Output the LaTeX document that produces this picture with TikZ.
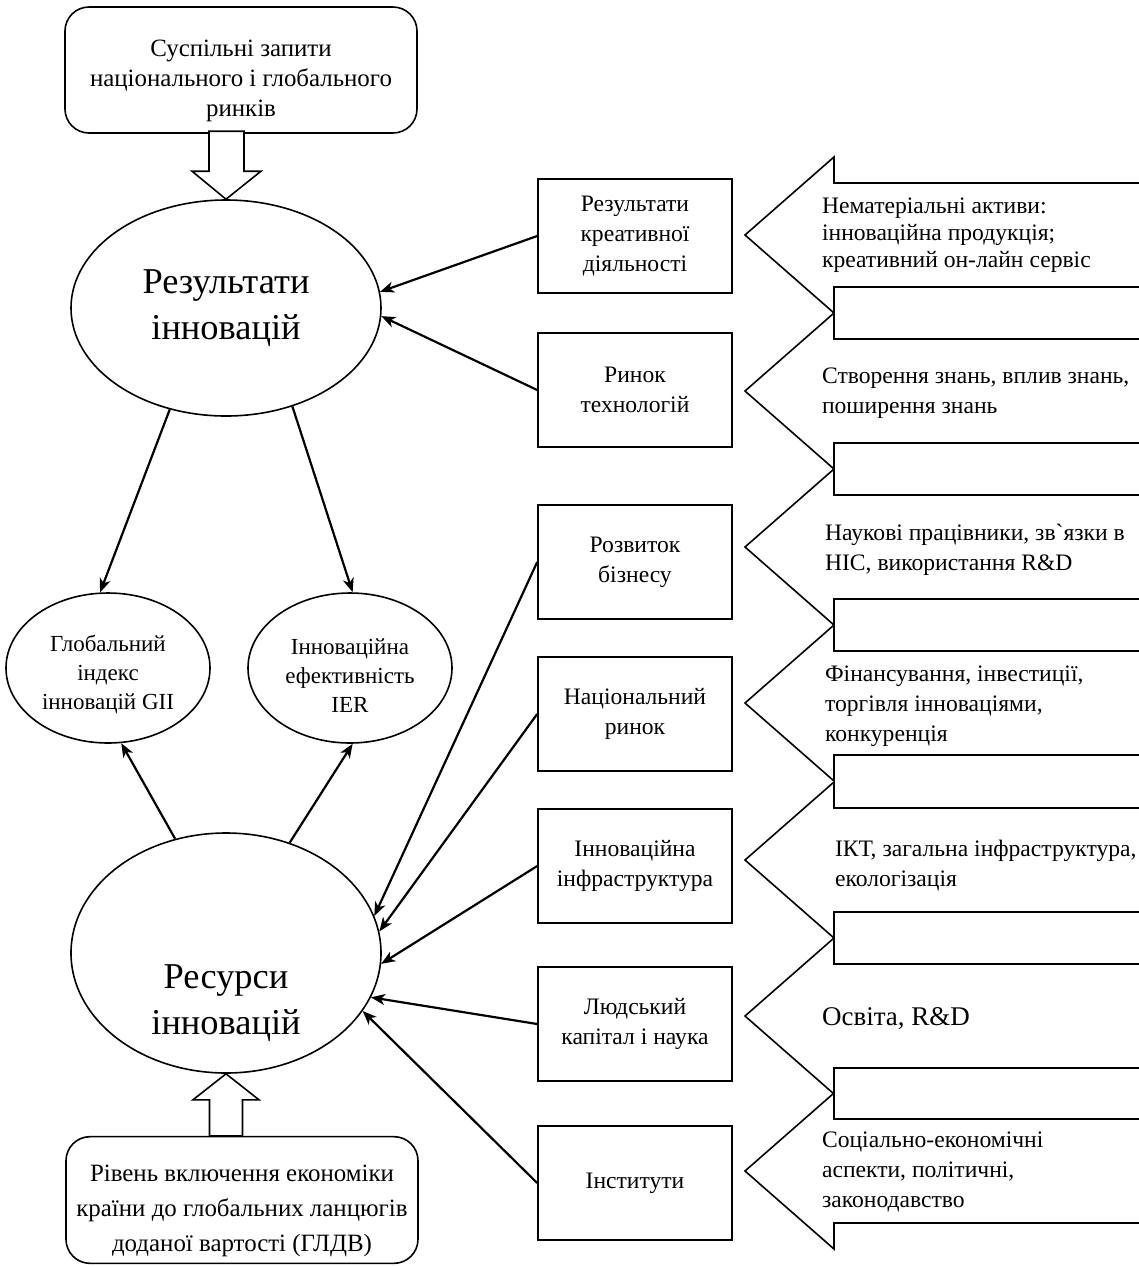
\documentclass[tikz,border=0pt]{standalone}
\usepackage{fontspec}
\setmainfont{Liberation Serif}
\usetikzlibrary{arrows.meta,shapes.geometric}

\begin{document}
\begin{tikzpicture}[x=0.5pt,y=-0.5pt,>={Stealth[length=7pt,width=5.5pt,inset=2pt]},
    font=\fontsize{11.8}{15}\selectfont,every node/.style={align=center},
    rbox/.style={draw,line width=0.8pt,rounded corners=12pt,minimum width=176pt,minimum height=63pt,font=\fontsize{12.45}{15}\selectfont},
    fbox/.style={draw,line width=0.8pt,minimum width=97pt,minimum height=57pt},
    bigell/.style={draw,line width=0.8pt,ellipse,inner sep=0pt,minimum width=155pt,minimum height=108pt,font=\fontsize{18.2}{23}\selectfont},
    smell/.style={draw,line width=0.8pt,ellipse,inner sep=0pt,minimum width=102pt,minimum height=75pt,font=\fontsize{11.5}{14.5}\selectfont},
    link/.style={->,line width=1.1pt},
    blockarr/.style={draw,line width=0.8pt,fill=white},
    txt/.style={anchor=west,align=left}]
    \useasboundingbox (0,0) rectangle (1139,1266);
    % left column
    \node[rbox] (zapyty) at (241,70) {\rule{0pt}{19pt}Суспільні запити\\національного і глобального\\ринків};
    \node[bigell] (rezinn) at (226,308) {Результати\\інновацій};
    \node[smell] (gii) at (108,668) {\rule{0pt}{15pt}Глобальний\\індекс\\інновацій GII};
    \node[smell] (ier) at (350,668) {\rule{0pt}{15pt}Інноваційна\\ефективність\\IER};
    \node[bigell,minimum height=120pt] (resinn) at (226,953) {};
    \node[font=\fontsize{18.2}{23}\selectfont] (resinntxt) at (226,1003) {Ресурси\\інновацій};
    \node[rbox,font=\fontsize{12.45}{17.5}\selectfont] (gldv) at (242,1200) {\rule{0pt}{19pt}Рівень включення економіки\\країни до глобальних ланцюгів\\доданої вартості (ГЛДВ)};
    \draw[blockarr] (rezinn.north) -- ++(-34,-28) -- ++(17,0) -- ++(0,-40) -- ++(35,0) -- ++(0,40) -- ++(17,0) -- cycle;
    \draw[blockarr] (resinn.south) -- ++(-33,26) -- ++(16.5,0) -- ++(0,36) -- ++(33,0) -- ++(0,-36) -- ++(16.5,0) -- cycle;
    % middle column
    \node[fbox] (kreat) at (635,236) {Результати\\креативної\\діяльності};
    \node[fbox] (tech) at (635,390) {Ринок\\технологій};
    \node[fbox] (biz) at (635,562) {Розвиток\\бізнесу};
    \node[fbox] (nacr) at (635,714) {Національний\\ринок};
    \node[fbox] (infra) at (635,866) {Інноваційна\\інфраструктура};
    \node[fbox] (ljud) at (635,1024) {Людський\\капітал і наука};
    \node[fbox] (inst) at (635,1183) {Інститути};
    % right column
    \foreach \t in {235,391,547,703,860,1016,1171}
      \draw[line width=0.8pt] (1139,\t-52) -- (834,\t-52) -- (834,\t-78) -- (745,\t) -- (834,\t+78) -- (834,\t+52) -- (1139,\t+52);
    \node[txt,font=\fontsize{11.8}{13.5}\selectfont] (nemat) at (815,235) {Нематеріальні активи:\\інноваційна продукція;\\креативний он-лайн сервіс};
    \node[txt] (znan) at (815,393) {Створення знань, вплив знань,\\поширення знань};
    \node[txt] (nauk) at (818,550) {Наукові працівники, зв{\addfontfeatures{Ligatures=TeXOff}`}язки в\\НІС, використання R\&D};
    \node[txt] (fin) at (818,706) {Фінансування, інвестиції,\\торгівля інноваціями,\\конкуренція};
    \node[txt] (ikt) at (828,866) {ІКТ, загальна інфраструктура,\\екологізація};
    \node[txt,font=\fontsize{13.5}{16}\selectfont] (osv) at (815,1019) {Освіта, R\&D};
    \node[txt] (soc) at (815,1172) {Соціально-економічні\\аспекти, політичні,\\законодавство};
    % links
    \draw[link] (kreat.west) -- (rezinn.6);
    \draw[link] (tech.west) -- (rezinn.-3);
    \draw[link] (rezinn.-119) -- (gii.96);
    \draw[link] (rezinn.-56) -- (ier.88);
    \draw[link] (resinn.114) -- (gii.-80);
    \draw[link] (resinn.60) -- (ier.-88);
    \draw[link] (biz.west) -- (resinn.14);
    \draw[link] (nacr.west) -- (resinn.8);
    \draw[link] (infra.west) -- (resinn.-4);
    \draw[link] (ljud.west) -- (resinn.-17);
    \draw[link] (inst.west) -- (resinn.-23);
  \end{tikzpicture}
\end{document}
